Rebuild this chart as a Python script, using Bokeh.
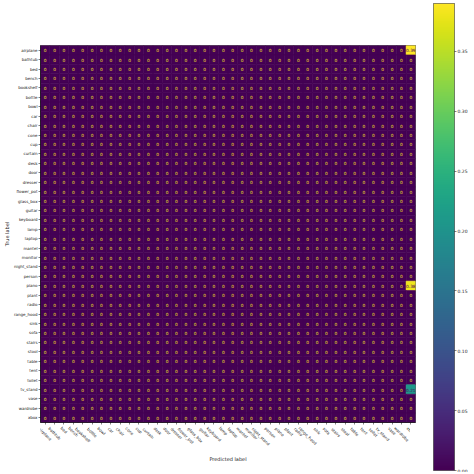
import numpy as np
from bokeh.plotting import figure
from bokeh.layouts import row, column
from bokeh.models import (ColumnDataSource, LinearColorMapper, FixedTicker,
                          NumeralTickFormatter, FactorRange, Range1d)
from bokeh.palettes import Viridis256
from bokeh.embed import file_html
from bokeh.resources import INLINE
from bokeh.core.properties import value

classes = ["airplane", "bathtub", "bed", "bench", "bookshelf", "bottle", "bowl", "car",
           "chair", "cone", "cup", "curtain", "desk", "door", "dresser", "flower_pot",
           "glass_box", "guitar", "keyboard", "lamp", "laptop", "mantel", "monitor",
           "night_stand", "person", "piano", "plant", "radio", "range_hood", "sink",
           "sofa", "stairs", "stool", "table", "tent", "toilet", "tv_stand", "vase",
           "wardrobe", "xbox"]

# non-zero cells of the confusion matrix: (true label, predicted label, value)
nonzero_true = ["airplane", "piano", "tv_stand"]
nonzero_pred = ["xbox", "xbox", "xbox"]
nonzero_vals = [0.39, 0.38, 0.21]

colorbar_ticks = [0.00, 0.05, 0.10, 0.15, 0.20, 0.25, 0.30, 0.35]

n = len(classes)
cm = np.zeros((n, n))
for t, pr, v in zip(nonzero_true, nonzero_pred, nonzero_vals):
    cm[classes.index(t), classes.index(pr)] = v

vmin, vmax = 0.0, float(cm.max())
mapper = LinearColorMapper(palette=Viridis256, low=vmin, high=vmax)
thresh = (vmin + vmax) / 2.0

xs, ys, vals, labels, tcol = [], [], [], [], []
for i, t in enumerate(classes):
    for j, pr in enumerate(classes):
        v = cm[i, j]
        xs.append(pr)
        ys.append(t)
        vals.append(v)
        labels.append("0" if v == 0 else format(v, ".2g"))
        tcol.append("#fde725" if v < thresh else "#440154")

src = ColumnDataSource(dict(x=xs, y=ys, v=vals, lab=labels, tc=tcol))

FONT = "DejaVu Sans"
TXT = "#1a1a1a"
FRAME_W = 375
FRAME_H = 377
TICK_FS = 4.0
LEFT = 31
RIGHT = 4
TOTAL_H = 470
MAIN_TOP = 45
MAIN_BOTTOM = 3
XL_H = TOTAL_H - MAIN_TOP - FRAME_H - MAIN_BOTTOM

xr = FactorRange(factors=classes)
p = figure(x_range=xr,
           y_range=FactorRange(factors=list(reversed(classes))),
           frame_width=FRAME_W, frame_height=FRAME_H,
           min_border_left=LEFT, min_border_top=MAIN_TOP,
           min_border_bottom=MAIN_BOTTOM, min_border_right=RIGHT,
           output_backend="svg", toolbar_location=None)
cmap_field = {"field": "v", "transform": mapper}
p.rect(x="x", y="y", width=1, height=1, source=src,
       fill_color=cmap_field, line_color=cmap_field, line_width=0.6)
p.text(x="x", y="y", text="lab", source=src, text_color="tc",
       text_align="center", text_baseline="middle", text_font_size="4.3px",
       text_font=value(FONT))

p.grid.visible = False
p.outline_line_color = "black"
p.outline_line_width = 0.6
for ax in (p.xaxis, p.yaxis):
    ax.major_label_text_font_size = f"{TICK_FS}px"
    ax.major_label_text_font = FONT
    ax.major_label_text_color = TXT
    ax.axis_label_text_font_size = "5px"
    ax.axis_label_text_font = FONT
    ax.axis_label_text_color = TXT
    ax.axis_label_text_font_style = "normal"
    ax.major_tick_out = 2
    ax.major_tick_in = 0
    ax.major_tick_line_width = 0.5
    ax.axis_line_width = 0.5
    ax.major_label_standoff = 1
    ax.axis_label_standoff = 1
p.yaxis.axis_label = "True label"
p.xaxis.major_label_text_font_size = "0px"
p.xaxis.major_label_standoff = 0

# strip below the matrix holding the rotated x tick labels (centred under ticks)
XL_BOTTOM = 21
xl_frame_h = XL_H - XL_BOTTOM
px = figure(x_range=xr, y_range=Range1d(0, xl_frame_h),
            frame_width=FRAME_W, height=XL_H,
            min_border_left=LEFT, min_border_right=RIGHT,
            min_border_top=0, min_border_bottom=XL_BOTTOM,
            output_backend="svg", toolbar_location=None)
px.outline_line_color = None
px.grid.visible = False
px.yaxis.visible = False
px.xaxis.axis_label = "Predicted label"
px.xaxis.axis_label_text_font_size = "5px"
px.xaxis.axis_label_text_font = FONT
px.xaxis.axis_label_text_color = TXT
px.xaxis.axis_label_text_font_style = "normal"
px.xaxis.axis_label_standoff = 0
px.xaxis.major_label_text_font_size = "0px"
px.xaxis.major_label_standoff = 0
px.xaxis.major_tick_line_color = None
px.xaxis.minor_tick_line_color = None
px.xaxis.axis_line_color = None
lab_y = [xl_frame_h - (1.0 + 0.354 * len(c) * 0.56 * TICK_FS + 1.3) for c in classes]
px.text(x=classes, y=lab_y, text=classes, angle=-np.pi / 4,
        text_align="center", text_baseline="middle",
        text_font_size=f"{TICK_FS}px", text_font=value(FONT), text_color=TXT)

# colorbar as its own small figure
cb = figure(x_range=Range1d(0, 1), y_range=Range1d(vmin, vmax),
            frame_width=21, height=472, min_border_left=14, min_border_top=3,
            min_border_bottom=2, min_border_right=0,
            y_axis_location="right",
            output_backend="svg", toolbar_location=None)
grad = np.linspace(vmin, vmax, 256).reshape(-1, 1)
cb.image(image=[grad], x=0, y=vmin, dw=1, dh=vmax - vmin, color_mapper=mapper)
cb.xaxis.visible = False
cb.grid.visible = False
cb.outline_line_color = "black"
cb.outline_line_width = 0.6
cb.yaxis.ticker = FixedTicker(ticks=colorbar_ticks)
cb.yaxis.formatter = NumeralTickFormatter(format="0.00")
cb.yaxis.major_label_text_font_size = "4.5px"
cb.yaxis.major_label_text_font = FONT
cb.yaxis.major_label_text_color = TXT
cb.yaxis.major_tick_out = 2
cb.yaxis.major_tick_in = 0
cb.yaxis.minor_tick_line_color = None
cb.yaxis.axis_line_color = None
cb.yaxis.major_tick_line_width = 0.5
cb.yaxis.major_label_standoff = 1

layout = row(column(p, px, spacing=0), cb, spacing=0)
open("out.html", "w").write(file_html(layout, INLINE))
